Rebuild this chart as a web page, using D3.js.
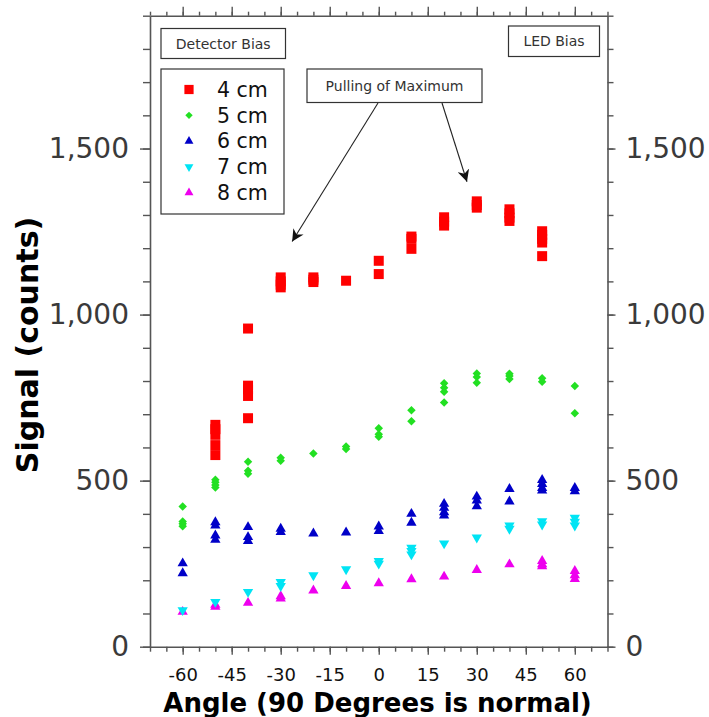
<!DOCTYPE html>
<html>
<head>
<meta charset="utf-8">
<script src="https://cdn.jsdelivr.net/npm/d3@7"></script>
<style>
  html, body { margin: 0; padding: 0; background: #fff; }
  svg { display: block; font-family: "DejaVu Sans", sans-serif; }
</style>
</head>
<body>
<svg id="chart" width="709" height="717"></svg>
<script>
// ---------- Data (angle in degrees, signal in counts) ----------
const seriesNames = ["4 cm", "5 cm", "6 cm", "7 cm", "8 cm"];
const seriesColors = ["#ff0000", "#22e022", "#0000c8", "#00e4f4", "#ee00ee"];
const seriesShapes = ["square", "diamond", "triangle", "triangleDown", "triangle"];

const xTickValues = [-60, -45, -30, -15, 0, 15, 30, 45, 60];
const yTickValues = [0, 500, 1000, 1500];

// each entry: [angle, [signal readings]]
const data4cm = [
  [-50, [668, 655, 638, 607, 577]],
  [-40, [958, 786, 775, 755, 688]],
  [-30, [1112, 1100, 1090, 1082]],
  [-20, [1112, 1105, 1098]],
  [-10, [1102]],
  [0,   [1162, 1122]],
  [10,  [1235, 1228, 1198]],
  [20,  [1293, 1280, 1268]],
  [30,  [1341, 1330, 1322]],
  [40,  [1317, 1305, 1292, 1282]],
  [50,  [1251, 1240, 1228, 1217, 1176]]
];
const data5cm = [
  [-60, [422, 377, 370, 363]],
  [-50, [503, 495, 487, 479]],
  [-40, [557, 530, 521]],
  [-30, [569, 560]],
  [-20, [582]],
  [-10, [603, 595]],
  [0,   [658, 640, 632]],
  [10,  [712, 679]],
  [20,  [793, 780, 768, 735]],
  [30,  [823, 812, 795]],
  [40,  [822, 815, 806]],
  [50,  [808, 798]],
  [60,  [785, 703]]
];
const data6cm = [
  [-60, [251, 221]],
  [-50, [375, 365, 335, 322]],
  [-40, [360, 330, 318]],
  [-30, [355, 345]],
  [-20, [341]],
  [-10, [344]],
  [0,   [362, 348]],
  [10,  [400, 373]],
  [20,  [430, 418, 405, 395]],
  [30,  [452, 440, 423]],
  [40,  [475, 437]],
  [50,  [502, 490, 478, 470]],
  [60,  [478, 468]]
];
const data7cm = [
  [-60, [110]],
  [-50, [135]],
  [-40, [165]],
  [-30, [195, 183]],
  [-20, [215]],
  [-10, [233]],
  [0,   [258, 250]],
  [10,  [298, 288, 278]],
  [20,  [311]],
  [30,  [329]],
  [40,  [365, 355]],
  [50,  [378, 368]],
  [60,  [388, 376, 365]]
];
const data8cm = [
  [-60, [105]],
  [-50, [126, 120]],
  [-40, [132]],
  [-30, [152, 145]],
  [-20, [169]],
  [-10, [183]],
  [0,   [191]],
  [10,  [203]],
  [20,  [211]],
  [30,  [231]],
  [40,  [248]],
  [50,  [258, 248, 242]],
  [60,  [228, 215, 204]]
];
const allSeries = [data4cm, data5cm, data6cm, data7cm, data8cm];

// annotation arrow tips in data coordinates
const arrowTips = [[-26.5, 1220], [27, 1400]];

// ---------- Layout ----------
const svg = d3.select("#chart");
const margin = { left: 150, top: 15.7, right: 709 - 607.5, bottom: 717 - 646.7 };
const W = 709 - margin.left - margin.right;
const H = 717 - margin.top - margin.bottom;

const x = d3.scaleLinear().domain([-70, 70]).range([margin.left, margin.left + W]);
const y = d3.scaleLinear().domain([0, 1900]).range([margin.top + H, margin.top]);

const axisColor = "#555";

// ---------- Axes ----------
const xMinor = d3.range(-70, 71, 5);
const yMinor = d3.range(0, 1901, 100);

function styleAxis(g) {
  g.selectAll(".domain").attr("stroke", axisColor).attr("stroke-width", 1.6);
  g.selectAll(".tick line").attr("stroke", axisColor).attr("stroke-width", 1.4);
}

// bottom
const gBottom = svg.append("g").attr("transform", `translate(0,${margin.top + H})`)
  .call(d3.axisBottom(x).tickValues(xMinor).tickSize(5).tickSizeOuter(0).tickFormat(""));
styleAxis(gBottom);
const gBottomMaj = svg.append("g").attr("transform", `translate(0,${margin.top + H})`)
  .call(d3.axisBottom(x).tickValues(xTickValues).tickSize(8).tickPadding(14).tickSizeOuter(0)
    .tickFormat(d => d < 0 ? "-" + Math.abs(d) : String(d)));
styleAxis(gBottomMaj);
gBottomMaj.select(".domain").remove();
gBottomMaj.selectAll("text").attr("font-size", 18).attr("fill", "#111")
  .attr("font-family", "DejaVu Sans");

// top
const gTop = svg.append("g").attr("transform", `translate(0,${margin.top})`)
  .call(d3.axisTop(x).tickValues(xMinor).tickSize(4).tickSizeOuter(0).tickFormat(""));
styleAxis(gTop);
const gTopMaj = svg.append("g").attr("transform", `translate(0,${margin.top})`)
  .call(d3.axisTop(x).tickValues(xTickValues).tickSize(9).tickSizeOuter(0).tickFormat(""));
styleAxis(gTopMaj);
gTopMaj.select(".domain").remove();

// left
const gLeft = svg.append("g").attr("transform", `translate(${margin.left},0)`)
  .call(d3.axisLeft(y).tickValues(yMinor).tickSize(7).tickSizeOuter(0).tickFormat(""));
styleAxis(gLeft);
const gLeftMaj = svg.append("g").attr("transform", `translate(${margin.left},0)`)
  .call(d3.axisLeft(y).tickValues(yTickValues).tickSize(10).tickPadding(11).tickSizeOuter(0)
    .tickFormat(d3.format(",")));
styleAxis(gLeftMaj);
gLeftMaj.select(".domain").remove();
gLeftMaj.selectAll("text").attr("font-size", 28).attr("fill", "#3a3a3a")
  .attr("font-family", "DejaVu Sans");

// right
const gRight = svg.append("g").attr("transform", `translate(${margin.left + W},0)`)
  .call(d3.axisRight(y).tickValues(yMinor).tickSize(6).tickSizeOuter(0).tickFormat(""));
styleAxis(gRight);
const gRightMaj = svg.append("g").attr("transform", `translate(${margin.left + W},0)`)
  .call(d3.axisRight(y).tickValues(yTickValues).tickSize(8).tickPadding(10).tickSizeOuter(0)
    .tickFormat(d3.format(",")));
styleAxis(gRightMaj);
gRightMaj.select(".domain").remove();
gRightMaj.selectAll("text").attr("font-size", 28).attr("fill", "#3a3a3a")
  .attr("font-family", "DejaVu Sans");

// ---------- Axis titles ----------
svg.append("text")
  .attr("x", (158 + 597) / 2).attr("y", 711.5)
  .attr("text-anchor", "middle")
  .attr("font-size", 26).attr("font-weight", "bold").attr("fill", "#000")
  .text("Angle (90 Degrees is normal)");

svg.append("text")
  .attr("transform", `translate(38,${(212 + 478) / 2}) rotate(-90)`)
  .attr("text-anchor", "middle")
  .attr("font-size", 30).attr("font-weight", "bold").attr("fill", "#000")
  .text("Signal (counts)");

// ---------- Markers ----------
function symbolPath(shape, scale) {
  const s = scale || 1;
  if (shape === "square") return d3.symbol(d3.symbolSquare, 100 * s)();
  if (shape === "diamond") return d3.symbol(d3.symbolSquare, 36 * s)();
  return d3.symbol(d3.symbolTriangle, 46 * s)();
}
function symbolRotate(shape) {
  if (shape === "diamond") return 45;
  if (shape === "triangleDown") return 180;
  return 0;
}

const plot = svg.append("g");
// draw from 8 cm up to 4 cm so that 4 cm sits on top
for (let si = allSeries.length - 1; si >= 0; si--) {
  const pts = [];
  allSeries[si].forEach(([ang, vals]) => vals.forEach(v => pts.push({ ang, v })));
  const shape = seriesShapes[si];
  plot.append("g").selectAll("path").data(pts).join("path")
    .attr("d", symbolPath(shape))
    .attr("transform", d => `translate(${x(d.ang)},${y(d.v)}) rotate(${symbolRotate(shape)})`)
    .attr("fill", seriesColors[si]);
}

// ---------- Boxes ----------
function labelBox(x0, y0, w, h, txt, fs) {
  svg.append("rect").attr("x", x0).attr("y", y0).attr("width", w).attr("height", h)
    .attr("fill", "#fff").attr("stroke", "#333").attr("stroke-width", 1.2);
  svg.append("text").attr("x", x0 + w / 2).attr("y", y0 + h / 2).attr("dy", "0.36em")
    .attr("text-anchor", "middle").attr("font-size", fs).attr("fill", "#333")
    .text(txt);
}
labelBox(161, 28.5, 124.5, 30, "Detector Bias", 14);
labelBox(508.5, 26, 91, 30.5, "LED Bias", 14);

// Arrows (drawn before the box so they start under it)
const defs = svg.append("defs");
defs.append("marker").attr("id", "ah").attr("viewBox", "0 0 10 10")
  .attr("refX", 10).attr("refY", 5).attr("markerWidth", 12).attr("markerHeight", 12)
  .attr("markerUnits", "userSpaceOnUse").attr("orient", "auto")
  .append("path").attr("d", "M0,0 L10,5 L0,10 L3,5 Z").attr("fill", "#111");
const arrowStarts = [[378, 103], [442, 103]];
arrowTips.forEach((t, i) => {
  svg.append("line")
    .attr("x1", arrowStarts[i][0]).attr("y1", arrowStarts[i][1])
    .attr("x2", x(t[0])).attr("y2", y(t[1]))
    .attr("stroke", "#222").attr("stroke-width", 1.1)
    .attr("marker-end", "url(#ah)");
});
labelBox(307, 69, 175, 33.5, "Pulling of Maximum", 14);

// ---------- Legend ----------
const lg = svg.append("g");
lg.append("rect").attr("x", 161).attr("y", 69).attr("width", 123).attr("height", 145)
  .attr("fill", "#fff").attr("stroke", "#333").attr("stroke-width", 1.2);
seriesNames.forEach((name, i) => {
  const cy = 89.5 + i * 25.8;
  lg.append("path").attr("d", symbolPath(seriesShapes[i], i === 0 ? 0.85 : 0.75))
    .attr("transform", `translate(189,${cy}) rotate(${symbolRotate(seriesShapes[i])})`)
    .attr("fill", seriesColors[i]);
  lg.append("text").attr("x", 217).attr("y", cy).attr("dy", "0.36em")
    .attr("font-size", 20.5).attr("fill", "#111").text(name);
});
</script>
</body>
</html>
